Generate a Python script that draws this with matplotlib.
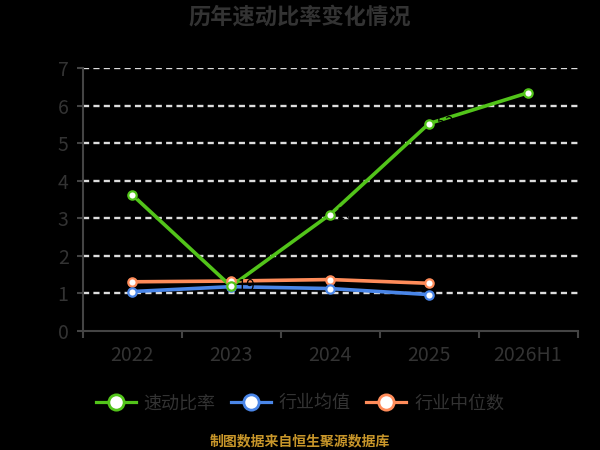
import matplotlib
matplotlib.use("Agg")
import matplotlib.pyplot as plt
from matplotlib.lines import Line2D

plt.rcParams['font.family'] = ['Noto Sans CJK SC', 'DejaVu Sans']

# 数据
years = ["2022", "2023", "2024", "2025", "2026H1"]
quick_ratio = [3.63, 1.19, 3.10, 5.52, 6.34]
ind_mean = [1.05, 1.18, 1.13, 0.97]
ind_median = [1.31, 1.33, 1.37, 1.27]

c_green = "#52c41a"
c_blue = "#4a86e8"
c_orange = "#ff8c5a"
c_text = "#333333"
c_axis = "#444444"

fig = plt.figure(figsize=(6, 4.5), dpi=100, facecolor="black")
ax = fig.add_axes([0.1375, 0.2644, 0.825, 0.5846], facecolor="black")

x = list(range(len(years)))
xm = x[:len(ind_mean)]

# 网格
for v in range(1, 8):
    ax.axhline(v, color="#dddddd", lw=1.7, ls=(0, (2.6, 1.8)), zorder=1)

ax.plot(xm, ind_median, color=c_orange, lw=2.6, zorder=3)
ax.plot(xm, ind_mean, color=c_blue, lw=2.6, zorder=3)
ax.plot(x, quick_ratio, color=c_green, lw=2.6, zorder=4)

# 数据标签（黑色，与背景同色）
for xi, v in zip(x, quick_ratio):
    ax.text(xi + 0.1, v, f"{v:.2f}", color="black", fontsize=11,
            ha="center", va="center", zorder=5)

# 标记点放在最上层
ax.plot(xm, ind_median, ls="none", marker="o", ms=6, mfc="white", mec=c_orange, mew=1.6, zorder=6)
ax.plot(xm, ind_mean, ls="none", marker="o", ms=6, mfc="white", mec=c_blue, mew=1.6, zorder=6)
ax.plot(x, quick_ratio, ls="none", marker="o", ms=6, mfc="white", mec=c_green, mew=1.6, zorder=6)

ax.set_xlim(-0.5, len(years) - 0.5)
ax.set_ylim(0, 7)
ax.set_yticks(range(0, 8))
ax.set_xticks(x)
ax.set_xticklabels(years)
ax.set_xticks([i - 0.5 for i in range(len(years) + 1)], minor=True)

ax.tick_params(axis="x", which="major", length=0, pad=10, labelsize=14, labelcolor=c_text)
ax.tick_params(axis="x", which="minor", length=5, width=1.5, color=c_axis, direction="out")
ax.tick_params(axis="y", length=4, width=1.5, color=c_axis, pad=6, labelsize=14, labelcolor=c_text)

for s in ["top", "right"]:
    ax.spines[s].set_visible(False)
for s in ["left", "bottom"]:
    ax.spines[s].set_color(c_axis)
    ax.spines[s].set_linewidth(1.5)

fig.text(0.5, 0.962, "历年速动比率变化情况", ha="center", va="center",
         fontsize=16, fontweight="bold", color=c_text)

handles = [
    Line2D([], [], color=c_green, lw=2.3, marker="o", ms=11, mfc="white", mec=c_green, mew=2),
    Line2D([], [], color=c_blue, lw=2.3, marker="o", ms=11, mfc="white", mec=c_blue, mew=2),
    Line2D([], [], color=c_orange, lw=2.3, marker="o", ms=11, mfc="white", mec=c_orange, mew=2),
]
leg = fig.legend(handles, ["速动比率", "行业均值", "行业中位数"], loc="center",
                 bbox_to_anchor=(0.5, 0.104), ncol=3, frameon=False, fontsize=13,
                 handlelength=2.2, handletextpad=0.45, columnspacing=0.85)
for t in leg.get_texts():
    t.set_color(c_text)

fig.text(0.5, 0.02, "制图数据来自恒生聚源数据库", ha="center", va="center",
         fontsize=10, fontweight="bold", color="#c8962a")

fig.savefig("out.png", dpi=100, facecolor="black")
